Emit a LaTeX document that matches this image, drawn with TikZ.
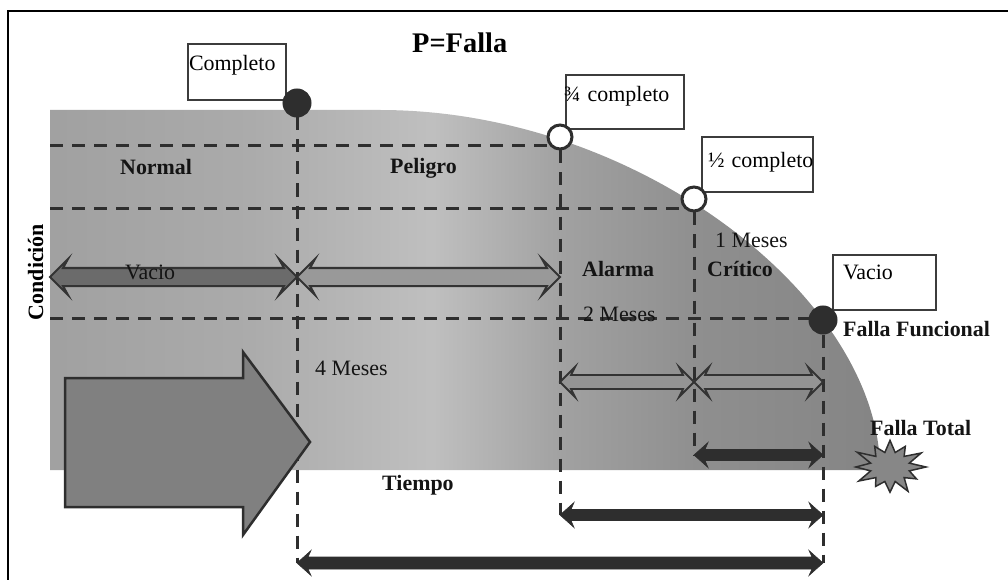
\documentclass[tikz,border=0pt]{standalone}
\usepackage{fontspec}
\setmainfont{Liberation Serif}
\usetikzlibrary{calc}

\definecolor{ink}{HTML}{2E2E2E}
\definecolor{boxline}{HTML}{3C3C3C}

% horizontal grey ramp of the condition area (25bp..75bp spans the area)
\pgfdeclarehorizontalshading{condshade}{100bp}{%
  color(0bp)=(black!37); color(25bp)=(black!37); color(37bp)=(black!33);
  color(48bp)=(black!25); color(56bp)=(black!37); color(64bp)=(black!44);
  color(75bp)=(black!48); color(100bp)=(black!48)}

\pgfdeclarelayer{bg}
\pgfsetlayers{bg,main}

% double-headed block arrow: style, left tip x, right tip x, y,
% half shaft, half head, head length, back indent
\newcommand\twinarrow[8]{%
  \path[#1] (#2,#4) -- ({#2+#7},{#4-#6}) -- ({#2+#7-#8},{#4-#5})
    -- ({#3-#7+#8},{#4-#5}) -- ({#3-#7},{#4-#6}) -- (#3,#4)
    -- ({#3-#7},{#4+#6}) -- ({#3-#7+#8},{#4+#5}) -- ({#2+#7-#8},{#4+#5})
    -- ({#2+#7},{#4+#6}) -- cycle;}

\begin{document}
\begin{tikzpicture}[x=1bp,y=-1bp,
  every node/.style={inner sep=0pt},
  lbl/.style={anchor=base west, font=\fontsize{22}{24}\selectfont, text=black!92},
  blbl/.style={lbl, font=\fontsize{22}{24}\selectfont\bfseries},
  guide/.style={draw=ink, line width=3bp, dash pattern=on 13bp off 9bp},
  tag/.style={draw=boxline, line width=2bp, fill=white, anchor=north west,
    inner xsep=0pt, inner ysep=0pt, align=left, font=\fontsize{22}{24}\selectfont},
  full/.style={circle, draw=ink, fill=ink, line width=2bp, minimum size=27bp},
  open/.style={circle, draw=ink, fill=white, line width=3bp, minimum size=24bp},
  darktwin/.style={fill=black!58, draw=black!80, line width=2bp},
  lighttwin/.style={fill=black!40, draw=black!80, line width=2bp},
  lowtwin/.style={fill=black!42, draw=black!80, line width=1.8bp},
  solidtwin/.style={fill=ink, draw=ink, line width=0.6bp},
  bigarrow/.style={fill=black!50, draw=ink, line width=2.5bp, line join=miter},
  burst/.style={fill=black!47, draw=ink, line width=1.5bp}]

\useasboundingbox (0,0) rectangle (1008,580);

% boxes for the fill states
\node[tag, text width=98bp, text height=27bp, text depth=29bp] (bxfull) at (187,43) {\hspace*{1bp}\mbox{Completo}};
\node[tag, text width=118bp, text height=27bp, text depth=27bp] (bxthree) at (565,74) {\hspace*{-2bp}\mbox{¾ completo}};
\node[tag, text width=111bp, text height=31bp, text depth=24bp] (bxhalf) at (701,136) {\hspace*{6bp}\mbox{½ completo}};
\node[tag, text width=103bp, text height=24bp, text depth=31bp] (bxempty) at (832,254) {\hspace*{10bp}\mbox{Vacio}};

% markers on the condition curve
\node[full] (c1) at (297,103) {};
\node[open] (c2) at (560,137) {};
\node[open] (c3) at (694,199) {};
\node[full] (c4) at (823,320) {};

\coordinate (b1) at (297,563);
\coordinate (b2) at (560,515);
\coordinate (b3) at (694,455);
\coordinate (b4) at (823,563);
\coordinate (h1) at (50,146);
\coordinate (h2) at (50,209);
\coordinate (h3) at (50,318);

\begin{pgfonlayer}{bg}
  % condition area
  \path[shading=condshade] (50,110) -- (380,110)
    .. controls (640,110) and (880,300) .. (880,470) -- (50,470) -- cycle;
  % outer frame
  \draw[line width=2bp] (8,582) -- (8,11) -- (1008,11);
  % guide lines
  \draw[guide] (h1) -- (h1 -| c2);
  \draw[guide] (h2) -- (h2 -| c3);
  \draw[guide] (h3) -- (h3 -| c4);
  \draw[guide] (c1) -- (b1);
  \draw[guide] (c2) -- (b2);
  \draw[guide] (c3) -- (b3);
  \draw[guide] (c4) -- (b4);
\end{pgfonlayer}

% interval arrows
\twinarrow{darktwin}{50}{297}{277}{9}{18}{18}{5}
\twinarrow{lighttwin}{297}{560}{277}{9}{18}{18}{5}
\twinarrow{lowtwin}{560}{694}{382}{7}{15}{15}{4}
\twinarrow{lowtwin}{694}{823}{382}{7}{15}{15}{4}
\twinarrow{solidtwin}{694}{823}{455}{5.5}{12.5}{14}{3}
\twinarrow{solidtwin}{560}{823}{515}{5.5}{12.5}{14}{3}
\twinarrow{solidtwin}{297}{823}{563}{6}{12.5}{14}{3}

% time arrow
\path[bigarrow] (65,378) -- (243,378) -- (243,352) -- (310,442)
  -- (243,535) -- (243,507) -- (65,507) -- cycle;

% total failure burst
\path[burst] ({890+36},467)
  \foreach \a/\f in {30/0.85,60/1,90/0.9,120/0.8,150/1,180/0.95,210/1.05,240/0.85,270/0.95,300/0.85,330/1,360/1}
  { -- ({890+20*cos(\a-15)},{467+15*sin(\a-15)}) -- ({890+36*\f*cos(\a)},{467+28*\f*sin(\a)}) } -- cycle;

% labels
\node[anchor=base west, font=\fontsize{28.5}{30}\selectfont\bfseries] (title) at (412,53) {P=Falla};
\node[blbl] (tnormal) at (120,175) {Normal};
\node[blbl] (tpeligro) at (390,174) {Peligro};
\node[lbl] (tvacio) at (125,280) {Vacio};
\node[blbl] (talarma) at (582,277) {Alarma};
\node[blbl] (tcritico) at (707,277) {Crítico};
\node[lbl] (tone) at (715,248) {1 Meses};
\node[lbl] (ttwo) at (583,321) {2 Meses};
\node[lbl] (tfour) at (315,375) {4 Meses};
\node[blbl] (tfunc) at (843,336) {Falla Funcional};
\node[blbl] (ttotal) at (870,435) {Falla Total};
\node[blbl] (ttime) at (382,490) {Tiempo};
\node[anchor=base, rotate=90, font=\fontsize{22}{24}\selectfont\bfseries] (tcond) at (43,272) {Condición};

\end{tikzpicture}
\end{document}
